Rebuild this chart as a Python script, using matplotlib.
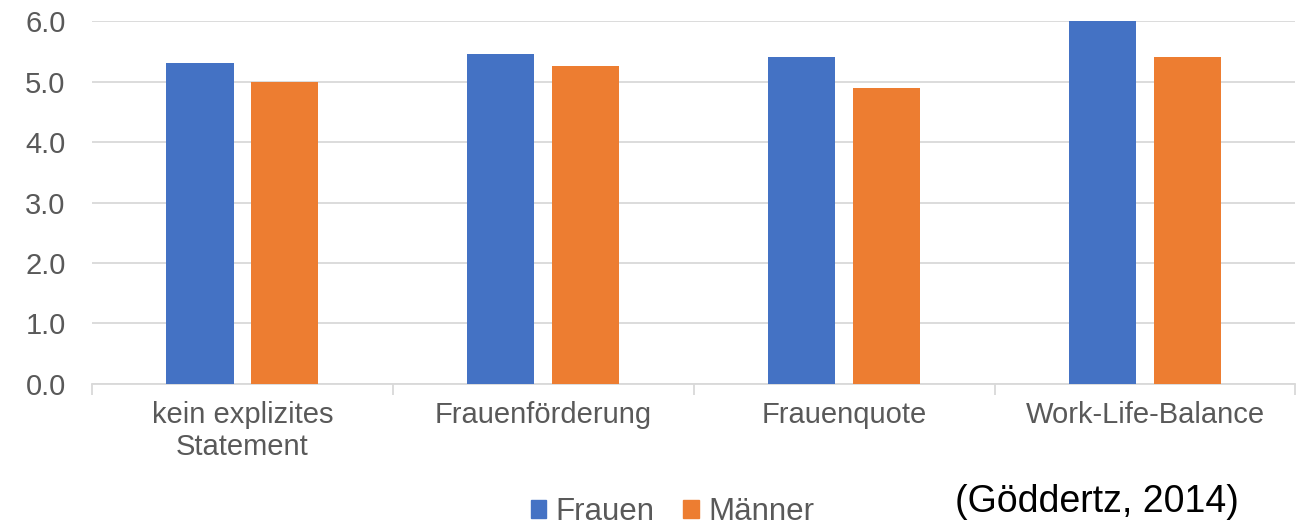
import numpy as np
import matplotlib.pyplot as plt
from matplotlib.patches import Patch

plt.rcParams['font.family'] = ['Liberation Sans', 'DejaVu Sans']

categories = ['kein explizites\nStatement', 'Frauenförderung', 'Frauenquote', 'Work-Life-Balance']
frauen = [5.3, 5.45, 5.4, 6.0]
maenner = [5.0, 5.25, 4.9, 5.4]
yticks = [0.0, 1.0, 2.0, 3.0, 4.0, 5.0, 6.0]

blue = '#4472C4'
orange = '#ED7D31'
grey = '#595959'
grid = '#D9D9D9'

fig = plt.figure(figsize=(12.98, 5.26), dpi=100)
ax = fig.add_axes([0.0709, 0.270, 0.9271, 0.690])

x = np.arange(len(categories))
w = 0.223
ax.bar(x - 0.141, frauen, w, color=blue, zorder=3)
ax.bar(x + 0.141, maenner, w, color=orange, zorder=3)

ax.set_xlim(-0.5, len(categories) - 0.5)
ax.set_ylim(0, 6)
ax.set_yticks(yticks)
ax.set_yticklabels(['%.1f' % v for v in yticks])
ax.yaxis.grid(True, color=grid, linewidth=1.3, zorder=0)

for s in ['top', 'right', 'left']:
    ax.spines[s].set_visible(False)
ax.spines['bottom'].set_color(grid)
ax.spines['bottom'].set_linewidth(1.3)

ax.tick_params(axis='y', length=0, labelsize=21, labelcolor=grey, pad=19)
ax.set_xticks(x)
ax.set_xticklabels(categories)
ax.tick_params(axis='x', length=0, labelsize=21, labelcolor=grey, pad=12)
ax.set_xticks(np.arange(len(categories) + 1) - 0.5, minor=True)
ax.tick_params(axis='x', which='minor', length=8, color=grid, width=1.3)

handles = [Patch(color=blue, label='Frauen'), Patch(color=orange, label='Männer')]
fig.legend(handles=handles, loc='center', bbox_to_anchor=(0.518, 0.026), ncol=2,
           frameon=False, fontsize=22.5, labelcolor=grey, handlelength=0.5,
           handleheight=0.5, handletextpad=0.3, columnspacing=0.9)

fig.text(0.845, 0.046, '(Göddertz, 2014)', fontsize=27, color='black',
         ha='center', va='center')

fig.savefig('out.png', dpi=100)
